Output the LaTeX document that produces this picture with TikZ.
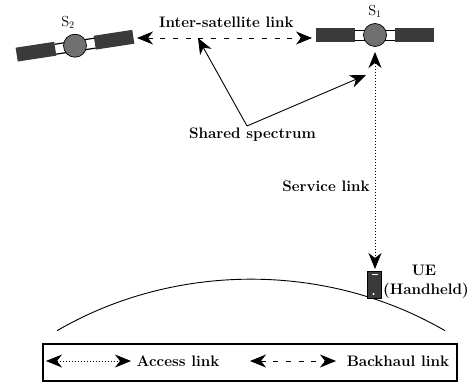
\documentclass[tikz,border=0pt]{standalone}
\usetikzlibrary{arrows.meta}
\definecolor{panelc}{HTML}{3A3A3A}
\definecolor{bodyc}{HTML}{707070}
\tikzset{
  x=1pt,y=-1pt,
  lbl/.style={inner sep=0pt,font=\fontsize{15.2}{17}\selectfont\bfseries},
  satlbl/.style={inner sep=0pt,font=\fontsize{14.5}{16}\selectfont},
  dashlink/.style={line width=0.9pt,dash pattern=on 5pt off 7.7pt,{Stealth[length=16pt,width=13pt,inset=5pt]}-{Stealth[length=16pt,width=13pt,inset=5pt]}},
  dotlink/.style={line width=0.9pt,dash pattern=on 1.5pt off 1.5pt,{Stealth[length=16pt,width=13pt,inset=5pt]}-{Stealth[length=16pt,width=13pt,inset=5pt]}},
  solidlink/.style={line width=0.9pt,-{Stealth[length=16pt,width=13pt,inset=5pt]}},
  body/.style={circle,fill=bodyc,draw=black,line width=0.7pt,minimum size=23pt,inner sep=0pt},
  strut/.style={line width=1.2pt}
}
\begin{document}
\begin{tikzpicture}
\useasboundingbox (0,0) rectangle (474,385);
% S1
\begin{scope}[shift={(375,35)}]
  \fill[panelc] (-59,-7) rectangle (-20,7);
  \fill[panelc] (20,-7) rectangle (59,7);
  \draw[strut] (-20,-4.5) -- (20,-4.5) (-20,5.5) -- (20,5.5);
  \node[body] (s1) at (0,0) {};
\end{scope}
% S2
\begin{scope}[shift={(75,45.7)},rotate=8.7]
  \fill[panelc] (-59,-7) rectangle (-20,7);
  \fill[panelc] (20,-7) rectangle (59,7);
  \draw[strut] (-20,-4.5) -- (20,-4.5) (-20,5.5) -- (20,5.5);
  \node[body] (s2) at (0,0) {};
\end{scope}
\node[satlbl] (s1l) at (375,11) {S$_1$};
\node[satlbl] (s2l) at (68,22) {S$_2$};
\node[lbl] (isl) at (226.5,22) {Inter-satellite link};
\node[lbl] (ss) at (252.5,135) {Shared spectrum};
\node[lbl] (sl) at (326,186) {Service link};
\node[lbl] (ue) at (424,270) {UE};
\node[lbl] (hh) at (426,291) {(Handheld)};
% links
\coordinate (isa) at (137,38);
\coordinate (isb) at (312,38);
\draw[dashlink] (isa) -- (isb);
\coordinate (j) at (247,126);
\coordinate (ta) at (198,38);
\coordinate (tb) at (366,75);
\draw[solidlink] (j) -- (ta);
\draw[solidlink] (j) -- (tb);
\coordinate (sa) at (375,52);
\coordinate (sb) at (375,269);
\draw[dotlink] (sa) -- (sb);
% earth
\coordinate (el) at (57,330.7);
\coordinate (er) at (445,330.7);
\draw[line width=0.9pt] (el) .. controls (175,262) and (327,262) .. (er);
% UE device
\node[fill=panelc,draw=black,line width=0.5pt,minimum width=13.5pt,minimum height=27pt,inner sep=0pt] (dev) at (374,284.5) {};
\fill[white] (371.5,273.5) rectangle (377.5,274.5);
\fill[white] (373.5,294) circle (1.2pt);
% legend
\node[draw=black,line width=1.1pt,minimum width=414pt,minimum height=37pt,inner sep=0pt] (box) at (250,362.5) {};
\coordinate (aa) at (46,361);
\coordinate (ab) at (131,361);
\draw[dotlink] (aa) -- (ab);
\node[lbl] (al) at (178,361) {Access link};
\coordinate (ba) at (250,361);
\coordinate (bb) at (336,361);
\draw[dashlink] (ba) -- (bb);
\node[lbl] (bl) at (398,361) {Backhaul link};
\end{tikzpicture}
\end{document}
